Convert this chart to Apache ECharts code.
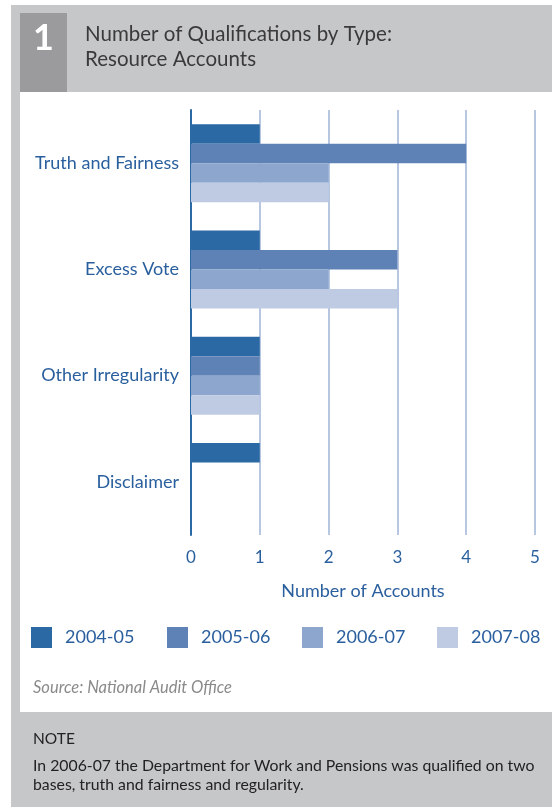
<!DOCTYPE html>
<html>
<head>
<meta charset="utf-8">
<script src="https://cdn.jsdelivr.net/npm/echarts@6/dist/echarts.min.js"></script>
<style>
  html, body { margin: 0; padding: 0; background: #fff; }
  #chart { width: 552px; height: 807px; }
</style>
</head>
<body>
<div id="chart"></div>
<script>
// categories, top to bottom
var categories = ['Truth and Fairness', 'Excess Vote', 'Other Irregularity', 'Disclaimer'];
var years = ['2004-05', '2005-06', '2006-07', '2007-08'];
var values0405 = [1, 1, 1, 1];
var values0506 = [4, 3, 1, 0];
var values0607 = [2, 2, 1, 0];
var values0708 = [2, 3, 1, 0];
var xTicks = [0, 1, 2, 3, 4, 5];

var colors = ['#2b69a5', '#5f82b6', '#8ca6cd', '#bfcae3'];
var blueText = '#2a5f9e';
var font = 'Lato, "Open Sans", sans-serif';

var seriesValues = [values0405, values0506, values0607, values0708];

var chart = echarts.init(document.getElementById('chart'));

var series = seriesValues.map(function (vals, i) {
  return {
    name: years[i],
    type: 'bar',
    data: vals,
    barWidth: 19.5,
    barGap: '0%',
    itemStyle: { color: colors[i] },
    silent: true
  };
});

// one legend per item so they sit where the original has them
var legendX = [31, 167, 302, 437];
var legends = years.map(function (y, i) {
  return {
    data: [y],
    left: legendX[i],
    top: 627,
    padding: 0,
    itemWidth: 21,
    itemHeight: 21,
    itemGap: 0,
    icon: 'rect',
    selectedMode: false,
    textStyle: { color: blueText, fontSize: 18, fontFamily: font, padding: [0, 0, 0, 8] }
  };
});

chart.setOption({
  animation: false,
  backgroundColor: '#fff',
  color: colors,
  legend: legends,
  grid: { left: 191, right: 17, top: 110, height: 425, containLabel: false },
  xAxis: {
    type: 'value',
    min: xTicks[0],
    max: xTicks[xTicks.length - 1],
    interval: 1,
    name: 'Number of Accounts',
    nameLocation: 'middle',
    nameGap: 47,
    nameTextStyle: { color: blueText, fontSize: 18, fontFamily: font },
    axisLine: { show: false },
    axisTick: { show: false },
    axisLabel: { color: blueText, fontSize: 17, fontFamily: font, margin: 14 },
    splitLine: { show: true, lineStyle: { color: '#9fb5d9', width: 1.5 } }
  },
  yAxis: {
    type: 'category',
    data: categories,
    inverse: true,
    axisLine: { show: true, lineStyle: { color: '#2b69a5', width: 2 } },
    axisTick: { show: false },
    axisLabel: { color: blueText, fontSize: 18, fontFamily: font, margin: 12, padding: [0, 0, 4, 0] }
  },
  series: series,
  graphic: [
    // grey frame: header, left strip, note area
    { type: 'rect', z: -10, shape: { x: 11, y: 5, width: 541, height: 87 }, style: { fill: '#c6c7c9' } },
    { type: 'rect', z: -10, shape: { x: 11, y: 92, width: 9, height: 620 }, style: { fill: '#c6c7c9' } },
    { type: 'rect', z: -10, shape: { x: 11, y: 712, width: 541, height: 95 }, style: { fill: '#c6c7c9' } },
    { type: 'rect', z: -9, shape: { x: 20, y: 13, width: 47, height: 79 }, style: { fill: '#9b9b9d' } },
    { type: 'text', left: 33, top: 20, style: { text: '1', fill: '#fff', font: 'bold 36px ' + font } },
    { type: 'text', left: 85, top: 24, style: { text: 'Number of Qualifications by Type:', fill: '#3a3a3a', font: '20.5px ' + font } },
    { type: 'text', left: 85, top: 49, style: { text: 'Resource Accounts', fill: '#3a3a3a', font: '20.5px ' + font } },
    { type: 'text', left: 33, top: 679, style: { text: 'Source: National Audit Office', fill: '#8a8a8a', font: 'italic 16.5px ' + font } },
    { type: 'text', left: 33, top: 731, style: { text: 'NOTE', fill: '#222', font: '15.5px ' + font } },
    { type: 'text', left: 33, top: 758, style: { text: 'In 2006-07 the Department for Work and Pensions was qualified on two', fill: '#222', font: '15.8px ' + font } },
    { type: 'text', left: 33, top: 777, style: { text: 'bases, truth and fairness and regularity.', fill: '#222', font: '15.8px ' + font } }
  ]
});
</script>
</body>
</html>
